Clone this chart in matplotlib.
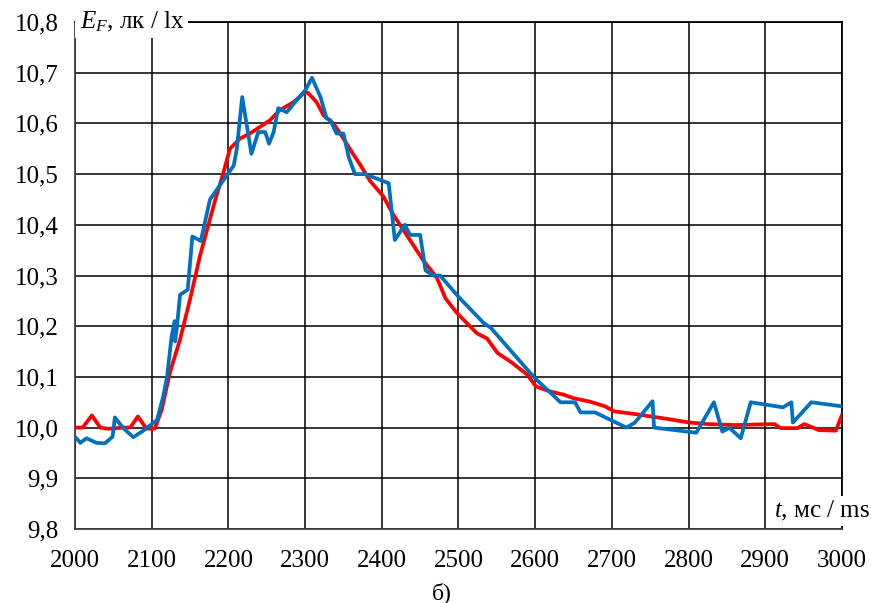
import matplotlib
matplotlib.use('Agg')
import matplotlib.pyplot as plt
from matplotlib.ticker import FuncFormatter, MultipleLocator

plt.rcParams['font.family'] = ['Liberation Serif', 'DejaVu Serif']
plt.rcParams['mathtext.fontset'] = 'custom'
plt.rcParams['mathtext.rm'] = 'Liberation Serif'
plt.rcParams['mathtext.it'] = 'Liberation Serif:italic'

# красная кривая
t_red = [2000, 2010, 2022, 2033, 2041, 2050, 2060, 2072, 2082, 2093, 2104,
         2113, 2124, 2137, 2150, 2163, 2176, 2183, 2193, 2202, 2215, 2228,
         2241, 2254, 2267, 2285, 2300, 2304, 2315, 2324, 2337, 2350, 2359,
         2372, 2385, 2402, 2415, 2428, 2441, 2454, 2472, 2483, 2498, 2511,
         2524, 2537, 2551, 2568, 2590, 2601, 2620, 2637, 2650, 2672, 2691,
         2703, 2729, 2751, 2773, 2801, 2825, 2860, 2912, 2920, 2942, 2951,
         2970, 2992, 3000]
e_red = [10.0, 10.0, 10.024, 10.0, 9.998, 9.998, 10.0, 10.0, 10.022, 9.998, 9.998,
         10.035, 10.11, 10.174, 10.253, 10.339, 10.411, 10.45, 10.50, 10.55, 10.57, 10.58,
         10.593, 10.606, 10.626, 10.642, 10.662, 10.66, 10.642, 10.616, 10.60, 10.57, 10.548,
         10.518, 10.486, 10.456, 10.42, 10.39, 10.36, 10.33, 10.295, 10.255, 10.226, 10.206,
         10.186, 10.176, 10.147, 10.13, 10.104, 10.081, 10.071, 10.065, 10.058, 10.051, 10.042,
         10.032, 10.027, 10.022, 10.017, 10.01, 10.007, 10.005, 10.007, 9.999, 9.999, 10.007,
         9.995, 9.994, 10.025]

# синяя кривая
t_blue = [2000, 2007, 2015, 2028, 2039, 2049, 2052, 2063, 2076, 2089, 2107,
          2115, 2120, 2126, 2130, 2130.5, 2133, 2137, 2147, 2153, 2164, 2176,
          2193, 2207, 2211, 2218, 2230, 2239, 2248, 2253, 2259, 2265, 2276,
          2287, 2300, 2309, 2320, 2328, 2333, 2341, 2350, 2357, 2365, 2378,
          2409, 2417, 2430, 2437, 2450, 2457, 2467, 2476, 2500, 2533, 2542,
          2598, 2633, 2652, 2659, 2678, 2719, 2730, 2753, 2755, 2810, 2833,
          2844, 2853, 2868, 2881, 2923, 2934, 2936, 2960, 3000]
e_blue = [9.982, 9.97, 9.979, 9.97, 9.969, 9.982, 10.02, 9.999, 9.981, 9.994, 10.015,
          10.061, 10.1, 10.18, 10.21, 10.17, 10.2, 10.262, 10.272, 10.377, 10.368, 10.45,
          10.487, 10.517, 10.55, 10.652, 10.54, 10.583, 10.583, 10.56, 10.583, 10.63, 10.622,
          10.642, 10.665, 10.69, 10.652, 10.61, 10.606, 10.58, 10.58, 10.533, 10.5, 10.5,
          10.482, 10.37, 10.4, 10.38, 10.38, 10.31, 10.3, 10.3, 10.258, 10.206, 10.197,
          10.1, 10.05, 10.05, 10.03, 10.03, 10.0, 10.01, 10.052, 10.0, 9.99, 10.05,
          9.992, 10.0, 9.979, 10.05, 10.04, 10.05, 10.01, 10.05, 10.042]

fig = plt.figure(figsize=(8.71, 6.03), dpi=100)
ax = fig.add_axes([0.0861, 0.1227, 0.8806, 0.8408])

ax.plot(t_red, e_red, color='#FF0000', lw=2.7, solid_joinstyle='round', zorder=3)
ax.plot(t_blue, e_blue, color='#0070C0', lw=2.7, solid_joinstyle='round', zorder=4)

ax.set_xlim(2000, 3000)
ax.set_ylim(9.8, 10.8)
ax.xaxis.set_major_locator(MultipleLocator(100))
ax.yaxis.set_major_locator(MultipleLocator(0.1))
ax.yaxis.set_major_formatter(FuncFormatter(lambda v, p: f'{v:.1f}'.replace('.', ',')))
ax.grid(True, color='black', lw=1.1, zorder=1)
ax.set_axisbelow(True)
for s in ax.spines.values():
    s.set_color('#404040')
    s.set_linewidth(1.3)
ax.spines['top'].set_color('black')
ax.spines['right'].set_color('black')
ax.tick_params(axis='both', length=0, labelsize=18)
ax.tick_params(axis='x', pad=15)
ax.tick_params(axis='y', pad=12)

# подписи осей
ax.text(0.006, 1.0, '$E_F$, лк / lx', transform=ax.transAxes, fontsize=18,
        ha='left', va='center', zorder=6,
        bbox=dict(facecolor='white', edgecolor='none', pad=3))
ax.text(0.911, 0.035, '$t$, мс / ms', transform=ax.transAxes, fontsize=18,
        ha='left', va='center', zorder=6, clip_on=False,
        bbox=dict(facecolor='white', edgecolor='none', pad=2))

fig.text(0.507, 0.017, 'б)', fontsize=17, ha='center', va='center')

fig.savefig('out.png', dpi=100)
